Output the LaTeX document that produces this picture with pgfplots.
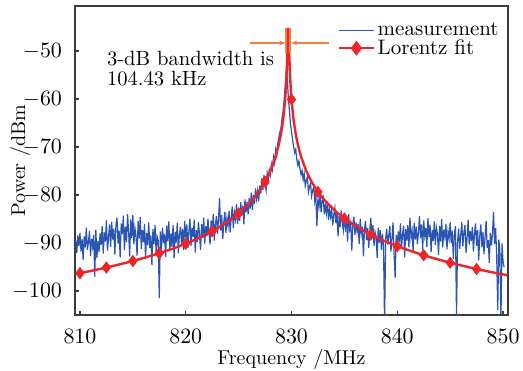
\documentclass[border=0pt]{standalone}
\usepackage{pgfplots}
\pgfplotsset{compat=1.18}
\usetikzlibrary{arrows.meta}
\definecolor{measblue}{RGB}{42,85,180}
\definecolor{fitred}{RGB}{238,36,40}
\definecolor{arrorange}{RGB}{240,128,64}
\definecolor{axgray}{RGB}{60,60,60}
\begin{document}
\begin{tikzpicture}
\begin{axis}[name=ax, scale only axis, width=216.5pt, height=154.5pt,
 xmin=809.53, xmax=850.47, ymin=-105, ymax=-40.6,
 xtick={810,820,830,840,850}, ytick={-100,-90,-80,-70,-60,-50},
 tick pos=left, tick align=inside, major tick length=2pt,
 axis line style={axgray, line width=0.8pt}, tick style={axgray, line width=0.6pt},
 ticklabel style={font=\fontsize{10.5}{12}\selectfont},
 xticklabel style={yshift=-3.5pt},
 yticklabel style={xshift=-3pt},
 xlabel={Frequency /MHz}, ylabel={Power /dBm},
 label style={font=\fontsize{10}{12}\selectfont},
 xlabel style={at={(axis description cs:0.5,-0.1425)}, anchor=center},
 ylabel style={at={(axis description cs:-0.127,0.5)}, anchor=center},
 legend style={at={(1,1)}, anchor=north east, xshift=-3pt, yshift=-6.5pt, draw=none, fill=none,
   inner sep=0pt, row sep=-2.5pt, nodes={inner sep=1.5pt}, font=\fontsize{10.5}{12}\selectfont},
 legend cell align=left,
 clip=true]
% measurement
\addplot[measblue, line width=0.6pt, no marks] coordinates {
(809.6,-89.5) (809.7,-92.1) (809.8,-88.4) (809.9,-90.6)
(810.0,-87.9) (810.1,-91.8) (810.2,-89.2) (810.3,-93.5) (810.4,-88.6) (810.5,-90.9) (810.6,-86.8) (810.7,-91.4) (810.8,-89.9) (810.9,-87.5)
(811.0,-92.7) (811.1,-89.1) (811.2,-90.8) (811.3,-88.3) (811.4,-97.0) (811.5,-87.2) (811.6,-93.1) (811.7,-89.6) (811.8,-91.9) (811.9,-88.0)
(812.0,-90.4) (812.1,-86.5) (812.2,-92.2) (812.3,-87.8) (812.4,-89.7) (812.5,-85.3) (812.6,-91.6) (812.7,-88.9) (812.8,-86.1) (812.9,-90.8)
(813.0,-85.6) (813.1,-89.3) (813.2,-87.0) (813.3,-92.4) (813.4,-86.2) (813.5,-84.7) (813.6,-90.1) (813.7,-87.4) (813.8,-93.0) (813.9,-85.9)
(814.0,-88.2) (814.1,-84.3) (814.2,-91.5) (814.3,-86.6) (814.4,-89.8) (814.5,-84.0) (814.6,-87.7) (814.7,-92.8) (814.8,-85.1) (814.9,-88.9)
(815.0,-84.2) (815.1,-90.3) (815.2,-86.9) (815.3,-88.5) (815.4,-92.6) (815.5,-85.4) (815.6,-89.1) (815.7,-84.6) (815.8,-91.2) (815.9,-87.3)
(816.0,-89.8) (816.1,-86.0) (816.2,-93.4) (816.3,-87.9) (816.4,-90.5) (816.5,-85.7) (816.6,-91.0) (816.7,-88.4) (816.8,-94.6) (816.9,-87.1)
(817.0,-90.2) (817.1,-86.3) (817.2,-92.0) (817.3,-88.7) (817.4,-89.5) (817.5,-101.5) (817.6,-87.6) (817.7,-91.3) (817.8,-86.8) (817.9,-90.0)
(818.0,-88.1) (818.1,-92.9) (818.2,-86.4) (818.3,-89.6) (818.4,-85.5) (818.5,-91.7) (818.6,-88.0) (818.7,-90.8) (818.8,-86.2) (818.9,-93.2)
(819.0,-87.7) (819.1,-89.9) (819.2,-85.8) (819.3,-92.1) (819.4,-88.3) (819.5,-86.6) (819.6,-90.4) (819.7,-87.0) (819.8,-91.5) (819.9,-85.4)
(820.0,-89.2) (820.1,-86.1) (820.2,-91.0) (820.3,-87.5) (820.4,-84.9) (820.5,-90.6) (820.6,-86.8) (820.7,-88.7) (820.8,-85.2) (820.9,-92.0)
(821.0,-87.3) (821.1,-89.8) (821.2,-85.6) (821.3,-88.2) (821.4,-91.4) (821.5,-86.0) (821.6,-88.9) (821.7,-84.7) (821.8,-90.1) (821.9,-86.5)
(822.0,-88.6) (822.1,-84.9) (822.2,-87.8) (822.3,-90.3) (822.4,-85.3) (822.5,-88.0) (822.6,-83.9) (822.7,-89.5) (822.8,-86.2) (822.9,-84.4)
(823.0,-88.1) (823.1,-85.0) (823.2,-80.6) (823.3,-87.4) (823.4,-84.2) (823.5,-89.2) (823.6,-85.7) (823.7,-83.5) (823.8,-87.9) (823.9,-84.8)
(824.0,-86.4) (824.1,-83.3) (824.2,-87.8) (824.3,-84.6) (824.4,-82.4) (824.5,-86.9) (824.6,-83.7) (824.7,-85.1) (824.8,-81.9) (824.9,-86.0)
(825.0,-83.0) (825.1,-85.4) (825.2,-81.5) (825.3,-84.3) (825.4,-82.2) (825.5,-86.1) (825.6,-80.9) (825.7,-83.6) (825.8,-81.4) (825.9,-84.0)
(826.0,-80.6) (826.1,-82.8) (826.2,-79.5) (826.3,-83.1) (826.4,-80.0) (826.5,-81.9) (826.6,-78.6) (826.7,-80.8) (826.8,-79.1) (826.9,-81.3)
(827.0,-78.0) (827.1,-79.7) (827.2,-76.5) (827.3,-78.9) (827.4,-75.8) (827.5,-77.6) (827.6,-79.0) (827.7,-75.4) (827.8,-76.9) (827.9,-74.8)
(828.0,-75.9) (828.1,-73.6) (828.2,-74.7) (828.3,-72.1) (828.4,-73.3) (828.5,-70.6) (828.6,-71.8) (828.7,-69.2) (828.8,-68.0) (828.9,-66.9)
(829.0,-66.1) (829.1,-64.0) (829.2,-62.8) (829.3,-60.3) (829.4,-57.4) (829.5,-54.2) (829.6,-55.8) (829.7,-59.6) (829.8,-62.3) (829.9,-65.1)
(830.0,-66.8) (830.1,-68.4) (830.2,-69.9) (830.3,-71.2) (830.4,-70.5) (830.5,-72.6) (830.6,-73.8) (830.7,-72.9) (830.8,-74.5) (830.9,-75.7)
(831.0,-74.9) (831.1,-76.8) (831.2,-75.6) (831.3,-78.1) (831.4,-77.0) (831.5,-76.2) (831.6,-79.4) (831.7,-78.3) (831.8,-77.5) (831.9,-80.2)
(832.0,-79.0) (832.1,-78.4) (832.2,-81.3) (832.3,-79.8) (832.4,-86.5) (832.5,-80.7) (832.6,-82.4) (832.7,-79.9) (832.8,-83.6) (832.9,-81.2)
(833.0,-80.5) (833.1,-84.0) (833.2,-82.1) (833.3,-83.8) (833.4,-81.4) (833.5,-85.2) (833.6,-82.9) (833.7,-84.6) (833.8,-83.0) (833.9,-86.3)
(834.0,-84.1) (834.1,-82.7) (834.2,-85.9) (834.3,-83.5) (834.4,-88.6) (834.5,-84.4) (834.6,-86.7) (834.7,-83.2) (834.8,-85.6) (834.9,-87.4)
(835.0,-84.8) (835.1,-86.9) (835.2,-85.3) (835.3,-89.7) (835.4,-84.0) (835.5,-87.1) (835.6,-85.8) (835.7,-91.6) (835.8,-86.2) (835.9,-84.5)
(836.0,-88.3) (836.1,-85.7) (836.2,-87.6) (836.3,-86.0) (836.4,-90.2) (836.5,-84.9) (836.6,-88.0) (836.7,-86.6) (836.8,-92.8) (836.9,-87.2)
(837.0,-85.4) (837.1,-89.4) (837.2,-86.9) (837.3,-91.0) (837.4,-87.5) (837.5,-84.8) (837.6,-88.9) (837.7,-86.3) (837.8,-90.6) (837.9,-87.7)
(838.0,-88.6) (838.1,-93.1) (838.2,-86.8) (838.3,-89.9) (838.4,-87.3) (838.5,-91.4) (838.6,-88.1) (838.7,-90.7) (838.8,-107.0) (838.9,-89.2)
(839.0,-87.0) (839.1,-90.3) (839.2,-88.4) (839.3,-86.5) (839.4,-91.8) (839.5,-89.0) (839.6,-85.7) (839.7,-92.4) (839.8,-97.2) (839.9,-88.3)
(840.0,-90.5) (840.1,-87.6) (840.2,-89.8) (840.3,-85.9) (840.4,-91.1) (840.5,-88.2) (840.6,-86.4) (840.7,-93.0) (840.8,-87.1) (840.9,-89.5)
(841.0,-86.3) (841.1,-90.9) (841.2,-84.7) (841.3,-88.8) (841.4,-87.4) (841.5,-92.0) (841.6,-85.8) (841.7,-89.3) (841.8,-86.6) (841.9,-90.2)
(842.0,-87.9) (842.1,-84.4) (842.2,-89.0) (842.3,-86.1) (842.4,-91.5) (842.5,-85.3) (842.6,-88.5) (842.7,-86.9) (842.8,-90.8) (842.9,-84.8)
(843.0,-88.7) (843.1,-86.2) (843.2,-91.9) (843.3,-87.3) (843.4,-89.6) (843.5,-85.5) (843.6,-90.4) (843.7,-86.8) (843.8,-88.1) (843.9,-92.5)
(844.0,-86.4) (844.1,-89.7) (844.2,-85.0) (844.3,-90.9) (844.4,-87.2) (844.5,-88.8) (844.6,-86.0) (844.7,-91.3) (844.8,-87.6) (844.9,-89.1)
(845.0,-85.7) (845.1,-90.0) (845.2,-87.4) (845.3,-93.3) (845.4,-88.2) (845.5,-86.5) (845.6,-105.0) (845.7,-89.8) (845.8,-87.0) (845.9,-91.2)
(846.0,-88.4) (846.1,-85.6) (846.2,-90.7) (846.3,-87.8) (846.4,-86.3) (846.5,-92.1) (846.6,-88.9) (846.7,-85.2) (846.8,-90.3) (846.9,-87.5)
(847.0,-89.6) (847.1,-86.7) (847.2,-91.8) (847.3,-88.0) (847.4,-85.9) (847.5,-90.6) (847.6,-87.3) (847.7,-93.6) (847.8,-88.5) (847.9,-86.1)
(848.0,-90.9) (848.1,-87.7) (848.2,-92.3) (848.3,-88.8) (848.4,-85.4) (848.5,-91.0) (848.6,-89.4) (848.7,-94.2) (848.8,-87.9) (848.9,-90.5)
(849.0,-88.1) (849.1,-83.5) (849.2,-90.2) (849.3,-86.9) (849.4,-92.7) (849.5,-104.0) (849.6,-89.3) (849.7,-91.6) (849.8,-106.5) (849.9,-90.1)
(850.0,-93.8) (850.1,-95.0)
};
\addlegendentry{measurement}
% Lorentz fit line
\addplot[fitred, line width=1.2pt, no marks, forget plot] coordinates {
(809.6,-96.46) (810,-96.29) (811,-95.84) (812,-95.36) (813,-94.85) (814,-94.32) (815,-93.75)
(816,-93.13) (817,-92.48) (818,-91.76) (819,-90.99) (820,-90.14) (821,-89.19) (822,-88.13)
(823,-86.92) (824,-85.52) (825,-83.84) (826,-81.76) (826.5,-80.50) (827,-79.03) (827.5,-77.25)
(828,-75.01) (828.5,-71.98) (828.8,-69.48) (829,-67.30) (829.2,-64.43) (829.4,-60.08)
(829.5,-56.73) (829.6,-51.54) (829.65,-47.80) (829.7,-45.17) (829.75,-47.80) (829.8,-51.54)
(829.9,-56.73) (830,-60.08) (830.2,-64.43) (830.4,-67.30) (830.6,-69.48) (830.9,-71.98)
(831.4,-75.01) (831.9,-77.25) (832.4,-79.03) (832.9,-80.50) (833.4,-81.76) (834.4,-83.84)
(835.4,-85.52) (836.4,-86.92) (837.4,-88.13) (838.4,-89.19) (839.4,-90.14) (840.4,-90.99)
(841.4,-91.76) (842.4,-92.48) (843.4,-93.13) (844.4,-93.75) (845.4,-94.32) (846.4,-94.85)
(847.4,-95.36) (848.4,-95.84) (849.4,-96.29) (850.4,-96.72)
};
% Lorentz fit markers
\addplot[fitred, only marks, mark=diamond*, mark size=2.8pt, forget plot] coordinates {
(810,-96.29) (812.5,-95.11) (815,-93.75) (817.5,-92.13) (820,-90.14) (822.5,-87.55)
(825,-83.84) (827.5,-77.25) (830,-60.08) (832.5,-79.34) (835,-84.89) (837.5,-88.24)
(840,-90.66) (842.5,-92.54) (845,-94.09) (847.5,-95.41)
};
\addlegendimage{fitred, line width=1.2pt, mark=diamond*, mark size=2.8pt}
\addlegendentry{Lorentz fit}
% bandwidth markers
\draw[arrorange, line width=1pt] (axis cs:829.52,-45.2) -- (axis cs:829.52,-50.5);
\draw[arrorange, line width=1pt] (axis cs:829.88,-45.2) -- (axis cs:829.88,-50.5);
\draw[arrorange, line width=0.6pt, -{Stealth[length=3pt,width=2.4pt]}] (axis cs:826.1,-48.3) -- (axis cs:829.42,-48.3);
\draw[arrorange, line width=0.6pt, -{Stealth[length=3pt,width=2.4pt]}] (axis cs:833.5,-48.3) -- (axis cs:829.98,-48.3);
\node[anchor=north west, align=left, inner sep=0pt, font=\fontsize{10.3}{10.35}\selectfont] at (axis cs:812.52,-49.85) {3-dB bandwidth is\\104.43 kHz};
\end{axis}
\pgfresetboundingbox
\path[use as bounding box] ([shift={(-37.5pt,-28pt)}]ax.south west) rectangle ([shift={(7.5pt,3pt)}]ax.north east);
\end{tikzpicture}
\end{document}
